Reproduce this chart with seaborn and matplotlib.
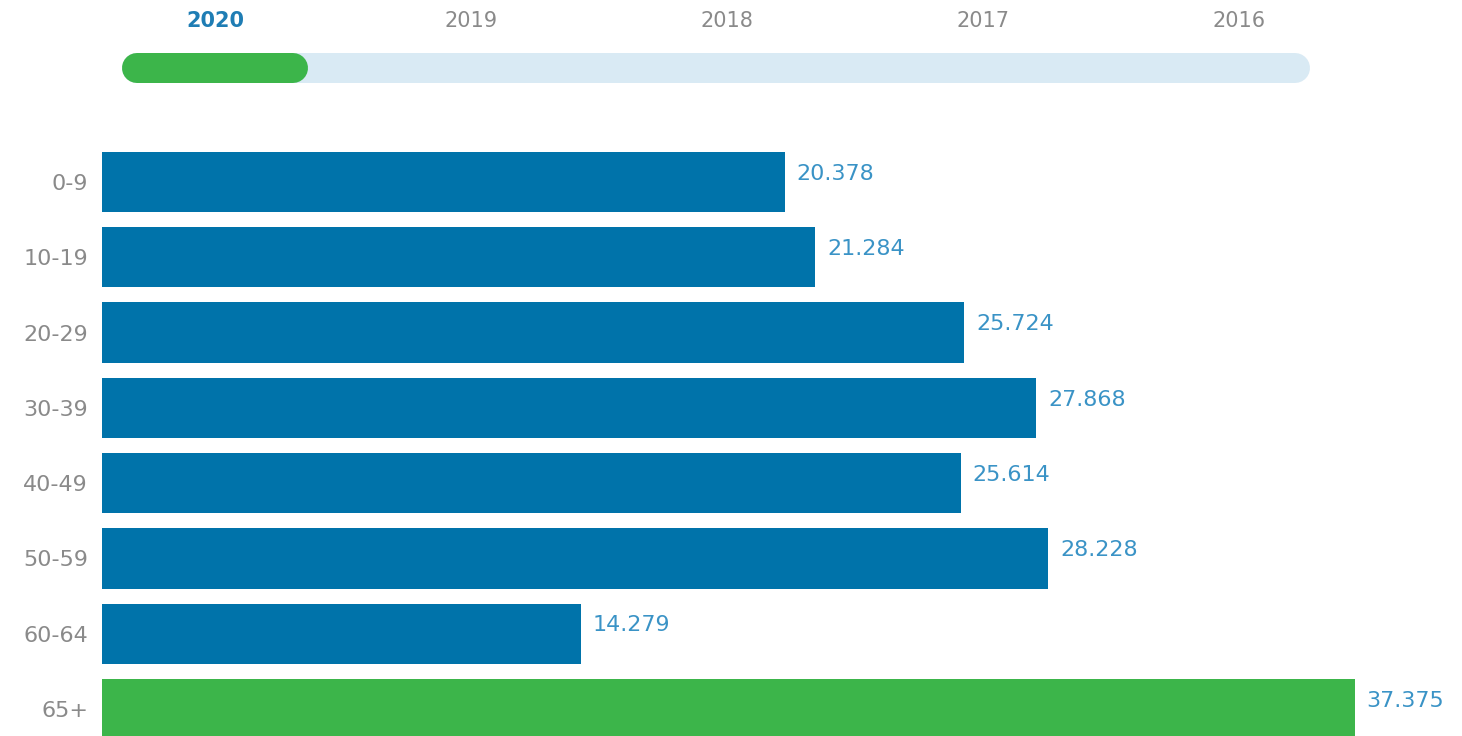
import pandas as pd
import numpy as np
import matplotlib
matplotlib.use('Agg')
import matplotlib.pyplot as plt
import seaborn as sns

# Dados
anos = ['2020', '2019', '2018', '2017', '2016']
ano_sel = 0
faixas = ['0-9', '10-19', '20-29', '30-39', '40-49', '50-59', '60-64', '65+']
valores = [20378, 21284, 25724, 27868, 25614, 28228, 14279, 37375]
rotulos = ['20.378', '21.284', '25.724', '27.868', '25.614', '28.228', '14.279', '37.375']

azul = '#0073AA'
verde = '#3CB54A'
cores = [azul] * 7 + [verde]

df = pd.DataFrame({'Faixa': faixas, 'Valor': valores})

sns.set_style('white')
plt.rcParams['font.family'] = ['DejaVu Sans']

W, H = 1462, 736
fig = plt.figure(figsize=(W / 100, H / 100), dpi=100)

# Barras
ax = fig.add_axes([102 / W, 0, 1 - 102 / W, 596 / H])
sns.barplot(data=df, x='Valor', y='Faixa', hue='Faixa', palette=cores,
            legend=False, width=0.8, saturation=1, linewidth=0, ax=ax)
ax.set_xlim(0, 40573)
ax.set_ylim(7.359, -0.558)
ax.set_xlabel('')
ax.set_ylabel('')
ax.set_xticks([])
sns.despine(ax=ax, left=True, bottom=True, top=True, right=True)
ax.tick_params(axis='y', length=0, pad=10, labelsize=16, labelcolor='#8a8a8a')

for i, (v, r) in enumerate(zip(valores, rotulos)):
    ax.annotate(r, (v, i), xytext=(8.5, 6), textcoords='offset points',
                ha='left', va='center', fontsize=16, color='#3A93C6')

# Linha do tempo no topo
axt = fig.add_axes([0, 1 - 100 / H, 1, 100 / H])
axt.set_xlim(-215 / 256, (W - 215) / 256)
axt.set_ylim(100, 0)
axt.axis('off')
xs = np.arange(len(anos))
axt.plot([xs[0] - 0.305, xs[-1] + 0.219], [68, 68], color='#D9EAF4',
         lw=21.6, solid_capstyle='round')
axt.plot([xs[ano_sel] - 0.305, xs[ano_sel] + 0.305], [68, 68], color=verde,
         lw=21.6, solid_capstyle='round')
for i, a in enumerate(anos):
    if i == ano_sel:
        axt.text(xs[i], 21, a, ha='center', va='center', fontsize=15,
                 color='#1F7DB4', fontweight='bold')
    else:
        axt.text(xs[i], 21, a, ha='center', va='center', fontsize=15,
                 color='#8a8a8a')

fig.savefig('out.png', dpi=100)
